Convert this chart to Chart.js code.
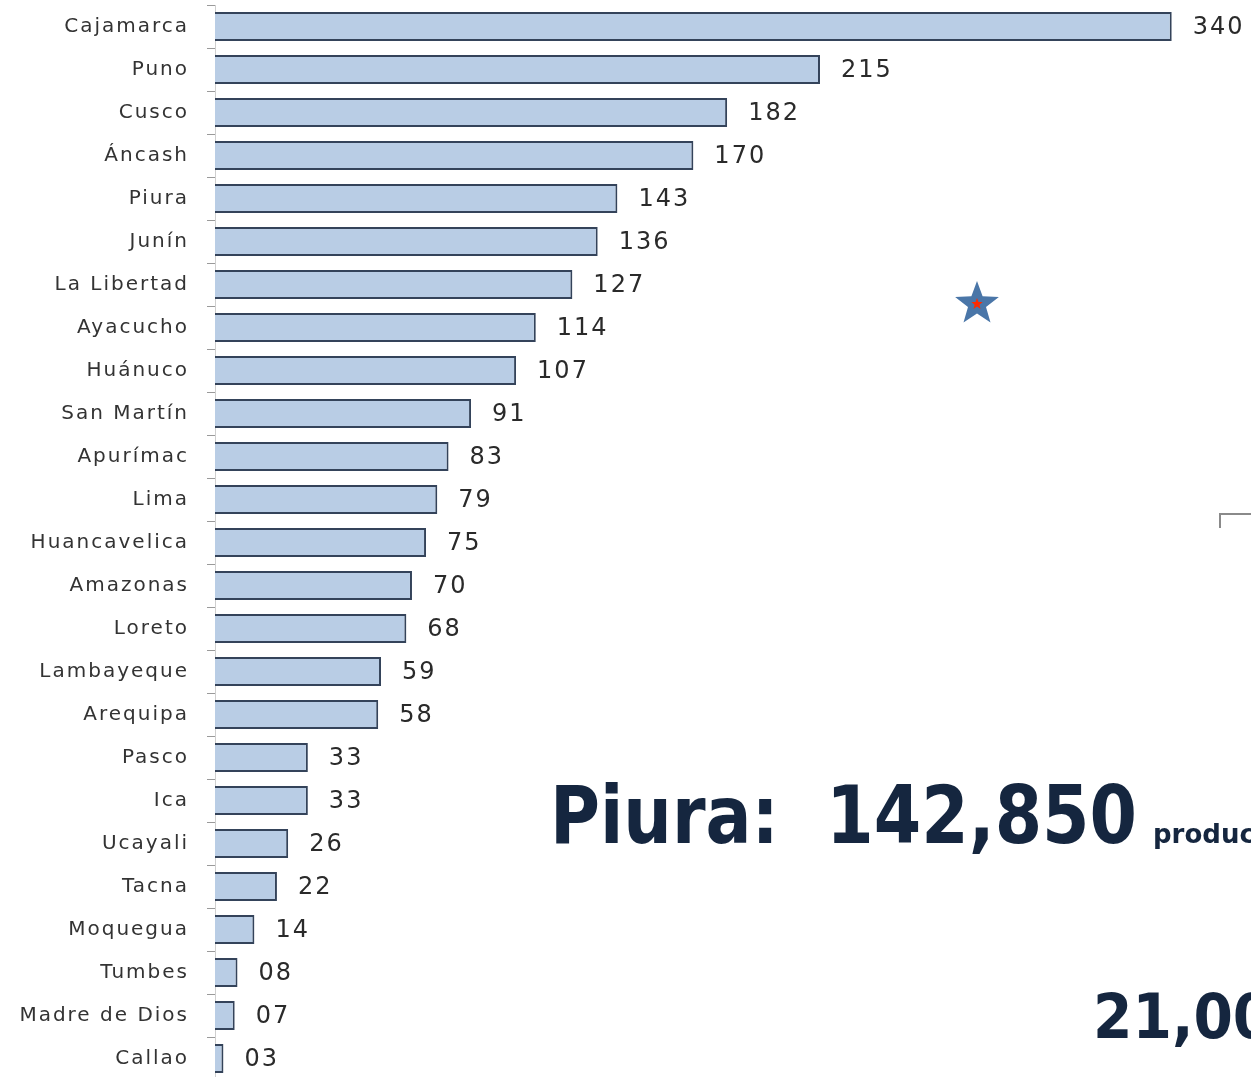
<!DOCTYPE html>
<html>
<head>
<meta charset="utf-8">
<script src="https://cdn.jsdelivr.net/npm/chart.js@4.4.1/dist/chart.umd.min.js"></script>
<style>
html, body { margin: 0; padding: 0; background: #fff; overflow: hidden; }
#wrap { position: relative; width: 1251px; height: 1077px; overflow: hidden; background: #fff; }
#chart { position: absolute; left: 0; top: 0; }
#overlay { position: absolute; left: 0; top: 0; }
.big { font-family: 'DejaVu Sans', sans-serif; font-weight: bold; fill: #15263f; white-space: pre; }
</style>
</head>
<body>
<div id="wrap">
  <canvas id="chart" width="1251" height="1085" style="width:1251px;height:1085px"></canvas>
  <svg id="overlay" width="1251" height="1077" xmlns="http://www.w3.org/2000/svg">
    <polygon id="star" fill="#4a76a8"></polygon>
    <polygon id="starInner" fill="#ff2a00"></polygon>
    <path d="M1220,528 L1220,514 L1251,514" fill="none" stroke="#8a8a8a" stroke-width="2"></path>
    <text class="big" x="550" y="843" font-size="80" textLength="587" lengthAdjust="spacingAndGlyphs" xml:space="preserve">Piura:  142,850</text>
    <text class="big" x="1153" y="843" font-size="26">productores</text>
    <text class="big" x="1093" y="1038" font-size="63" transform="translate(1093 0) scale(0.9 1) translate(-1093 0)">21,000</text>
  </svg>
</div>
<script>
// ==================== DATA ====================
const regions = ['Cajamarca', 'Puno', 'Cusco', 'Áncash', 'Piura', 'Junín', 'La Libertad', 'Ayacucho',
    'Huánuco', 'San Martín', 'Apurímac', 'Lima', 'Huancavelica', 'Amazonas', 'Loreto', 'Lambayeque',
    'Arequipa', 'Pasco', 'Ica', 'Ucayali', 'Tacna', 'Moquegua', 'Tumbes', 'Madre de Dios', 'Callao'];
const values = [340, 215, 182, 170, 143, 136, 127, 114, 107, 91, 83, 79, 75, 70, 68, 59, 58, 33, 33, 26, 22, 14, 8, 7, 3];
const valueLabels = ['340', '215', '182', '170', '143', '136', '127', '114', '107', '91', '83', '79', '75', '70',
    '68', '59', '58', '33', '33', '26', '22', '14', '08', '07', '03'];

// ==================== DECORATION ====================
function starPoints(cx, cy, outer, inner) {
    const pts = [];
    for (let i = 0; i < 10; i++) {
        const r = i % 2 === 0 ? outer : inner;
        const a = -Math.PI / 2 + i * Math.PI / 5;
        pts.push((cx + r * Math.cos(a)).toFixed(1) + ',' + (cy + r * Math.sin(a)).toFixed(1));
    }
    return pts.join(' ');
}
document.getElementById('star').setAttribute('points', starPoints(977, 304, 23, 9.5));
document.getElementById('starInner').setAttribute('points', starPoints(977, 304, 6, 2.5));

// ==================== PLUGINS ====================
// wider letter spacing for the axis text, like the original
const spacing = {
    id: 'spacing',
    beforeDraw(chart) { chart.ctx.letterSpacing = '2px'; },
    afterDraw(chart) { chart.ctx.letterSpacing = '0px'; }
};

const barValues = {
    id: 'barValues',
    afterDatasetsDraw(chart) {
        const ctx = chart.ctx;
        const meta = chart.getDatasetMeta(0);
        ctx.save();
        ctx.font = "24px 'DejaVu Sans', sans-serif";
        ctx.fillStyle = '#2a2a2a';
        ctx.textAlign = 'left';
        ctx.textBaseline = 'middle';
        ctx.letterSpacing = '2px';
        meta.data.forEach((bar, i) => {
            ctx.fillText(valueLabels[i], bar.x + 21, bar.y + 1);
        });
        ctx.restore();
    }
};

// ==================== CHART ====================
new Chart(document.getElementById('chart'), {
    type: 'bar',
    data: {
        labels: regions,
        datasets: [{
            data: values,
            backgroundColor: '#b9cde5',
            borderColor: '#34435a',
            borderWidth: 2,
            barPercentage: 0.67,
            categoryPercentage: 1
        }]
    },
    options: {
        responsive: false,
        animation: false,
        indexAxis: 'y',
        layout: { padding: { top: 5, bottom: 5, left: 0, right: 23 } },
        plugins: { legend: { display: false }, tooltip: { enabled: false } },
        scales: {
            x: { display: false, min: 0, max: 360 },
            y: {
                afterFit(scale) {
                    scale.width = 215;
                    scale.paddingTop = 0;
                    scale.paddingBottom = 0;
                },
                border: { display: true, color: '#cfcfcf', width: 1 },
                grid: { display: true, drawOnChartArea: false, drawTicks: true, tickLength: 8, color: '#9a9a9a', offset: true },
                ticks: {
                    autoSkip: false,
                    padding: 18,
                    color: '#333',
                    font: { family: "'DejaVu Sans', sans-serif", size: 20 }
                }
            }
        }
    },
    plugins: [spacing, barValues]
});
</script>
</body>
</html>
